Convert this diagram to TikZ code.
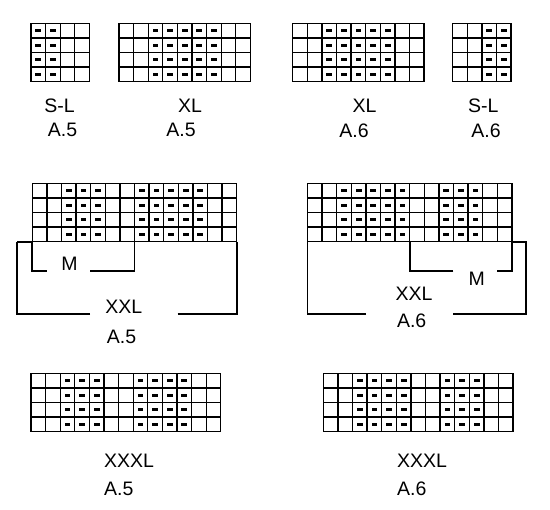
\documentclass[tikz,border=0pt]{standalone}
\usepackage{fontspec}
\setmainfont{Liberation Sans}
\usepackage{tikz}
\usetikzlibrary{positioning}

\tikzset{
    gridline/.style={line width=1.3pt},
    bracket/.style={line width=1.8pt},
    lbl/.style={font=\fontsize{19.5}{21}\selectfont, inner sep=0pt},
}
\newcommand{\cw}{14.6}
% chart: x, y of top left corner, number of columns, columns with a dash
\newcommand{\chartgrid}[4]{%
    \foreach \c in {0,...,#3}
        \draw[gridline] ({#1+\c*\cw},#2) -- ++(0,4*\cw);
    \foreach \r in {0,...,4}
        \draw[gridline] (#1,{#2+\r*\cw}) -- ++(#3*\cw,0);
    \foreach \c in {#4}
        \foreach \r in {1,...,4}
            \fill ({#1+(\c-0.5)*\cw-2.9},{#2+(\r-0.5)*\cw-1.4}) rectangle ++(5.8,2.8);
}

\begin{document}
\begin{tikzpicture}[x=1pt,y=-1pt]
    \useasboundingbox (0,0) rectangle (550,510);

    % top row
    \chartgrid{31}{23.3}{4}{1,2}
    \chartgrid{119}{23.3}{9}{3,4,5,6,7}
    \chartgrid{292.7}{23.3}{9}{3,4,5,6,7}
    \chartgrid{452.7}{23.3}{4}{3,4}
    \node[lbl] (slA) at (59.5,105.3) {S-L};
    \node[lbl] (slAn) at (62.5,130.3) {A.5};
    \node[lbl] (xlA) at (190,105.3) {XL};
    \node[lbl] (xlAn) at (181,130.3) {A.5};
    \node[lbl] (xlB) at (364.5,105.3) {XL};
    \node[lbl] (xlBn) at (354,130.3) {A.6};
    \node[lbl] (slB) at (483.3,105.3) {S-L};
    \node[lbl] (slBn) at (486,130.3) {A.6};

    % XXL, A.5
    \chartgrid{32.3}{183.3}{14}{3,4,5,8,9,10,11,12}
    \draw[bracket] (17.3,241.7) -- (32.3,241.7);
    \draw[bracket] (90,314.3) -- (17.3,314.3) -- (17.3,241.7);
    \draw[bracket] (177.7,314.3) -- (236.7,314.3) -- (236.7,241.7);
    \draw[bracket] (46.7,270.7) -- (32.3,270.7) -- (32.3,241.7);
    \draw[bracket] (90,270.7) -- (134.5,270.7) -- (134.5,241.7);
    \node[lbl] (mA) at (69.5,263.3) {M};
    \node[lbl] (xxlA) at (123.8,306.8) {XXL};
    \node[lbl] (xxlAn) at (121.5,337) {A.5};

    % XXL, A.6
    \chartgrid{307.5}{183.3}{14}{3,4,5,6,7,10,11,12}
    \draw[bracket] (366,314.3) -- (307.5,314.3) -- (307.5,241.7);
    \draw[bracket] (453.3,314.3) -- (526,314.3) -- (526,241.7) -- (511.9,241.7);
    \draw[bracket] (453.3,270.7) -- (409.7,270.7) -- (409.7,241.7);
    \draw[bracket] (497.3,270.7) -- (511.9,270.7) -- (511.9,241.7);
    \node[lbl] (mB) at (476.7,278.5) {M};
    \node[lbl] (xxlB) at (414,293.7) {XXL};
    \node[lbl] (xxlBn) at (411.7,321) {A.6};

    % bottom row
    \chartgrid{31}{373.3}{13}{3,4,5,8,9,10,11}
    \chartgrid{323.3}{373.3}{13}{3,4,5,6,9,10,11}
    \node[lbl, anchor=west] (xxxlA) at (104,461) {XXXL};
    \node[lbl, anchor=west] (xxxlAn) at (104,488.5) {A.5};
    \node[lbl, anchor=west] (xxxlB) at (397,461) {XXXL};
    \node[lbl, anchor=west] (xxxlBn) at (397,488.5) {A.6};
\end{tikzpicture}
\end{document}
